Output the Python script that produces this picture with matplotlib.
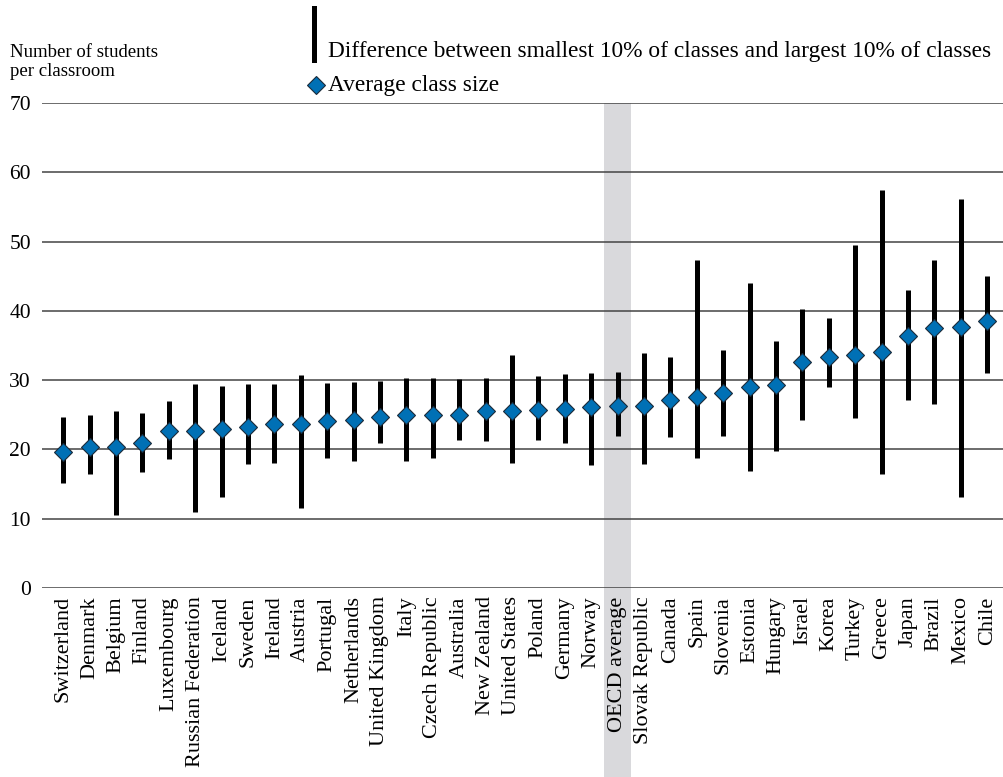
import matplotlib.pyplot as plt
from matplotlib.patches import Rectangle
from matplotlib.lines import Line2D

# Data
countries = ['Switzerland', 'Denmark', 'Belgium', 'Finland', 'Luxembourg',
             'Russian Federation', 'Iceland', 'Sweden', 'Ireland', 'Austria',
             'Portugal', 'Netherlands', 'United Kingdom', 'Italy', 'Czech Republic',
             'Australia', 'New Zealand', 'United States', 'Poland', 'Germany',
             'Norway', 'OECD average', 'Slovak Republic', 'Canada', 'Spain',
             'Slovenia', 'Estonia', 'Hungary', 'Israel', 'Korea', 'Turkey',
             'Greece', 'Japan', 'Brazil', 'Mexico', 'Chile']
avg_size = [19.6, 20.3, 20.4, 21.0, 22.7, 22.7, 22.9, 23.3, 23.6, 23.6,
            24.1, 24.3, 24.7, 24.9, 25.0, 25.0, 25.6, 25.6, 25.7, 25.8,
            26.1, 26.2, 26.3, 27.2, 27.6, 28.2, 29.0, 29.3, 32.6, 33.3,
            33.7, 34.1, 36.3, 37.5, 37.7, 38.5]
smallest_10 = [15.2, 16.4, 10.5, 16.7, 18.6, 10.9, 13.1, 17.9, 18.0, 11.5,
               18.7, 18.4, 21.0, 18.3, 18.8, 21.3, 21.2, 18.1, 21.3, 20.9,
               17.7, 22.0, 17.9, 21.8, 18.7, 22.0, 16.9, 19.8, 24.2, 29.0,
               24.5, 16.5, 27.2, 26.5, 13.2, 31.1]
largest_10 = [24.7, 25.0, 25.6, 25.2, 27.0, 29.4, 29.1, 29.4, 29.5, 30.7,
              29.6, 29.8, 29.9, 30.3, 30.3, 30.1, 30.3, 33.6, 30.6, 30.9,
              31.0, 31.2, 33.9, 33.4, 47.4, 34.4, 44.0, 35.7, 40.3, 39.0,
              49.5, 57.5, 43.0, 47.4, 56.1, 45.1]
highlight = 'OECD average'

plt.rcParams['font.family'] = ['Liberation Serif', 'DejaVu Serif']

fig = plt.figure(figsize=(10.04, 7.77), dpi=100)
ax = fig.add_axes([42 / 1004, 1 - 588 / 777, 961 / 1004, 485 / 777])

x = list(range(len(countries)))
hi = countries.index(highlight)

# grey band behind OECD average, running down through the labels
band = Rectangle((hi - 0.52, -0.5), 1.04, 1.5, transform=ax.get_xaxis_transform(),
                 facecolor='#d9d9dc', edgecolor='none', clip_on=False, zorder=0)
ax.add_patch(band)

ax.vlines(x, smallest_10, largest_10, color='black', lw=3.6, zorder=3)
ax.plot(x, avg_size, linestyle='none', marker='D', markersize=9.5,
        markerfacecolor='#0070b5', markeredgecolor='#1a2a3a', markeredgewidth=0.8,
        zorder=4)

ax.set_xlim(-0.8, len(countries) - 0.4)
ax.set_ylim(0, 70)
ax.set_yticks(range(0, 71, 10))
ax.yaxis.grid(True, color='#444444', lw=1.1)
ax.set_axisbelow(True)
for s in ax.spines.values():
    s.set_visible(False)
ax.tick_params(axis='both', length=0)
ax.tick_params(axis='y', labelsize=15.5, pad=8)
ax.set_xticks(x)
ax.set_xticklabels(countries, rotation=90, fontsize=16)
ax.tick_params(axis='x', pad=6)

fig.text(10 / 1004, 1 - 62 / 777, 'Number of students\nper classroom',
         fontsize=13.5, va='center', ha='left', linespacing=1.15)

# legend drawn by hand
fig.add_artist(Line2D([314 / 1004, 314 / 1004], [1 - 8 / 777, 1 - 60 / 777],
                      color='black', lw=3.6))
fig.text(328 / 1004, 1 - 51 / 777,
         'Difference between smallest 10% of classes and largest 10% of classes',
         fontsize=16.8, va='center', ha='left')
fig.add_artist(Line2D([316 / 1004], [1 - 85 / 777], marker='D', markersize=9.5,
                      markerfacecolor='#0070b5', markeredgecolor='#1a2a3a',
                      markeredgewidth=0.8, linestyle='none'))
fig.text(328 / 1004, 1 - 86 / 777, 'Average class size', fontsize=16.8,
         va='center', ha='left')

fig.savefig('out.png', dpi=100)
